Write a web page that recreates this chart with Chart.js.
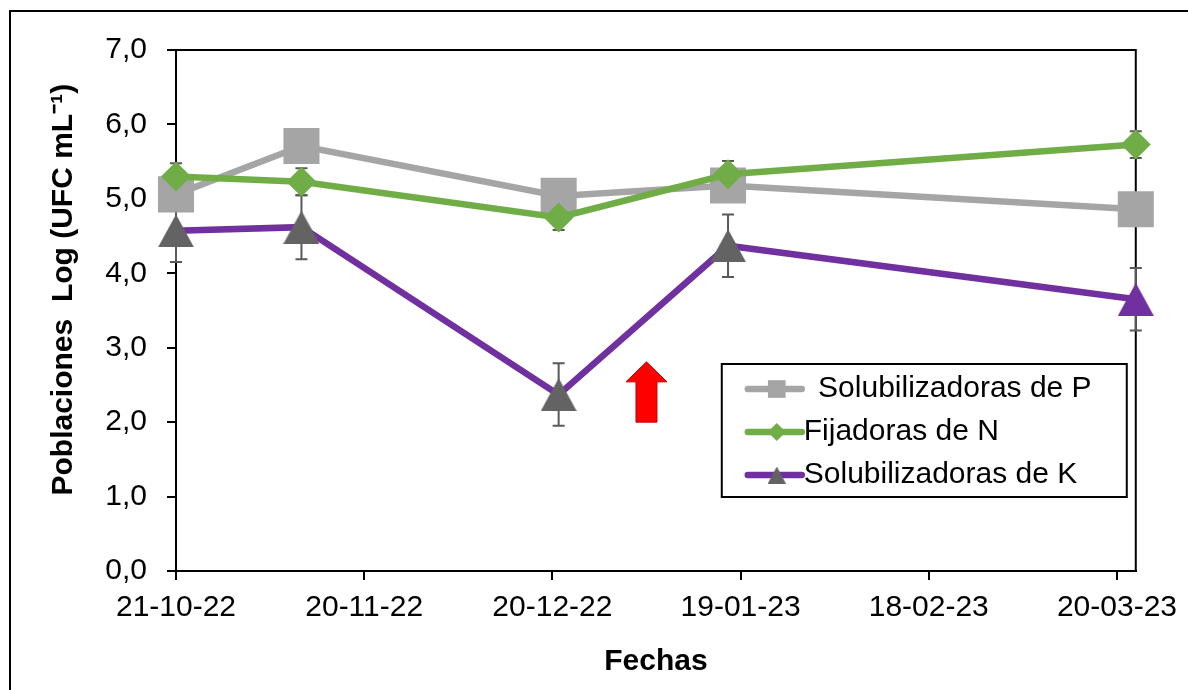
<!DOCTYPE html>
<html lang="es">
<head>
<meta charset="utf-8">
<title>Poblaciones microbianas</title>
<script src="https://cdn.jsdelivr.net/npm/chart.js@4/dist/chart.umd.min.js"></script>
<style>
    html, body { margin: 0; padding: 0; background: #fff; overflow: hidden; }
    #wrap { position: relative; width: 1188px; height: 690px; overflow: hidden; }
    #frame {
        position: absolute; left: 9px; top: 10px; width: 1400px; height: 900px;
        border-top: 2px solid #000; border-left: 2px solid #000;
    }
    #chart { position: absolute; left: 0; top: 0; }
</style>
</head>
<body>
<div id="wrap">
    <div id="frame"></div>
    <canvas id="chart" width="1188" height="690"></canvas>
</div>
<script>
(function () {
    "use strict";

    // days counted from 21-10-22
    const sampleDays = [0, 20, 61, 88, 153];
    const solubP = [5.06, 5.71, 5.04, 5.18, 4.86];
    const fijN = [5.30, 5.23, 4.75, 5.33, 5.73];
    const solubK = [4.57, 4.62, 2.37, 4.37, 3.65];
    const errN = [0.18, 0.18, 0.17, 0.18, 0.18];
    const errK = [0.42, 0.43, 0.42, 0.42, 0.42];

    const seriesLabels = [" Solubilizadoras de P", "Fijadoras de N", "Solubilizadoras de K"];

    const xTickDays = [0, 30, 60, 90, 120, 150];
    const xTickLabels = ["21-10-22", "20-11-22", "20-12-22", "19-01-23", "18-02-23", "20-03-23"];
    const yTickValues = [0, 1, 2, 3, 4, 5, 6, 7];

    // red arrow (day, from value, to value)
    const arrowDay = 75;
    const arrowFrom = 2.0;
    const arrowTo = 2.81;

    const fontFamily = "'Liberation Sans', Arial, sans-serif";
    const grayP = "#a5a5a5";
    const greenN = "#70ad47";
    const purpleK = "#7030a0";
    const markerK = "#636363";
    const errColor = "#595959";

    const toPoints = (values) => sampleDays.map((d, i) => ({ x: d, y: values[i] }));

    // triangle marker centred on its bounding box, like the spreadsheet one
    function triangleImage(w, h, color) {
        const c = document.createElement("canvas");
        c.width = w;
        c.height = h;
        const g = c.getContext("2d");
        g.fillStyle = color;
        g.beginPath();
        g.moveTo(w / 2, 0);
        g.lineTo(w, h);
        g.lineTo(0, h);
        g.closePath();
        g.fill();
        return c;
    }

    const triGray = triangleImage(36, 33, markerK);
    const triPurple = triangleImage(36, 33, purpleK);
    const triLegend = triangleImage(18, 17, markerK);

    const errorBarsPlugin = {
        id: "errorBars",
        beforeDatasetsDraw(chart) {
            const { ctx, scales: { x, y } } = chart;
            const sets = [[fijN, errN], [solubK, errK]];
            ctx.save();
            ctx.strokeStyle = errColor;
            ctx.lineWidth = 2;
            sets.forEach(([values, errs]) => {
                values.forEach((v, i) => {
                    const px = x.getPixelForValue(sampleDays[i]);
                    const top = y.getPixelForValue(v + errs[i]);
                    const bottom = y.getPixelForValue(v - errs[i]);
                    ctx.beginPath();
                    ctx.moveTo(px, top);
                    ctx.lineTo(px, bottom);
                    ctx.moveTo(px - 6, top);
                    ctx.lineTo(px + 6, top);
                    ctx.moveTo(px - 6, bottom);
                    ctx.lineTo(px + 6, bottom);
                    ctx.stroke();
                });
            });
            ctx.restore();
        }
    };

    const plotBorderPlugin = {
        id: "plotBorder",
        beforeDatasetsDraw(chart) {
            const { ctx, chartArea: a } = chart;
            ctx.save();
            ctx.strokeStyle = "#000";
            ctx.lineWidth = 2;
            ctx.beginPath();
            ctx.moveTo(a.left - 9, a.top);
            ctx.lineTo(a.right, a.top);
            ctx.lineTo(a.right, a.bottom);
            ctx.stroke();
            ctx.restore();
        }
    };

    const arrowPlugin = {
        id: "arrow",
        afterDatasetsDraw(chart) {
            const { ctx, scales: { x, y } } = chart;
            const cx = x.getPixelForValue(arrowDay);
            const yTop = y.getPixelForValue(arrowTo);
            const yBottom = y.getPixelForValue(arrowFrom);
            const headW = 20.5, headH = 20, shaftW = 10.5;
            ctx.save();
            ctx.beginPath();
            ctx.moveTo(cx, yTop);
            ctx.lineTo(cx + headW, yTop + headH);
            ctx.lineTo(cx + shaftW, yTop + headH);
            ctx.lineTo(cx + shaftW, yBottom);
            ctx.lineTo(cx - shaftW, yBottom);
            ctx.lineTo(cx - shaftW, yTop + headH);
            ctx.lineTo(cx - headW, yTop + headH);
            ctx.closePath();
            ctx.fillStyle = "#ff0000";
            ctx.fill();
            ctx.strokeStyle = "#c00000";
            ctx.lineWidth = 1;
            ctx.stroke();
            ctx.restore();
        }
    };

    function drawMarker(ctx, style, radius, px, py) {
        if (Chart.helpers && Chart.helpers.drawPoint) {
            Chart.helpers.drawPoint(ctx, {
                pointStyle: style, radius: radius, rotation: 0, borderWidth: 0
            }, px, py);
            return;
        }
        if (style instanceof HTMLCanvasElement) {
            ctx.drawImage(style, px - style.width / 2, py - style.height / 2);
            return;
        }
        ctx.beginPath();
        ctx.arc(px, py, radius, 0, Math.PI * 2);
        ctx.fill();
    }

    const boxLegendPlugin = {
        id: "boxLegend",
        afterDraw(chart) {
            const { ctx, chartArea: a } = chart;
            const left = a.right - 414;
            const top = a.top + 314;
            const entries = [
                { line: grayP, marker: grayP, style: "rect", r: 12.5 },
                { line: greenN, marker: greenN, style: "rectRot", r: 9 },
                { line: purpleK, marker: markerK, style: triLegend, r: 10 }
            ];
            ctx.save();
            ctx.fillStyle = "#fff";
            ctx.fillRect(left, top, 405, 133);
            ctx.strokeStyle = "#000";
            ctx.lineWidth = 2;
            ctx.strokeRect(left, top, 405, 133);
            entries.forEach((e, i) => {
                const rowY = top + 25 + i * 43;
                ctx.strokeStyle = e.line;
                ctx.lineWidth = 6.5;
                ctx.lineCap = "round";
                ctx.beginPath();
                ctx.moveTo(left + 26, rowY);
                ctx.lineTo(left + 80, rowY);
                ctx.stroke();
                ctx.fillStyle = e.marker;
                drawMarker(ctx, e.style, e.r, left + 55, rowY);
                ctx.fillStyle = "#000";
                ctx.font = "30px " + fontFamily;
                ctx.textAlign = "left";
                ctx.textBaseline = "middle";
                ctx.fillText(seriesLabels[i], left + (i === 0 ? 88 : 82), rowY);
            });
            ctx.restore();
        }
    };

    const lineDefaults = {
        borderWidth: 6.5,
        pointBorderWidth: 0,
        fill: false,
        tension: 0,
        clip: false
    };

    new Chart(document.getElementById("chart"), {
        type: "line",
        data: {
            datasets: [
                {
                    ...lineDefaults,
                    label: seriesLabels[0],
                    data: toPoints(solubP),
                    borderColor: grayP,
                    backgroundColor: grayP,
                    pointStyle: "rect",
                    pointRadius: 25.5,
                    pointHoverRadius: 25.5,
                    order: 3
                },
                {
                    ...lineDefaults,
                    label: seriesLabels[1],
                    data: toPoints(fijN),
                    borderColor: greenN,
                    backgroundColor: greenN,
                    pointStyle: "rectRot",
                    pointRadius: 15,
                    pointHoverRadius: 15,
                    order: 2
                },
                {
                    ...lineDefaults,
                    label: seriesLabels[2],
                    data: toPoints(solubK),
                    borderColor: purpleK,
                    backgroundColor: markerK,
                    pointStyle: [triGray, triGray, triGray, triGray, triPurple],
                    pointRadius: 18,
                    pointHoverRadius: 18,
                    order: 1
                }
            ]
        },
        plugins: [plotBorderPlugin, errorBarsPlugin, arrowPlugin, boxLegendPlugin],
        options: {
            responsive: false,
            animation: false,
            events: [],
            layout: { padding: { left: 0, top: 50, right: 51, bottom: 0 } },
            plugins: {
                legend: { display: false },
                tooltip: { enabled: false }
            },
            scales: {
                x: {
                    type: "linear",
                    min: 0,
                    max: 153,
                    afterBuildTicks: (scale) => {
                        scale.ticks = xTickDays.map((v) => ({ value: v }));
                    },
                    afterFit: (scale) => { scale.height = 119; },
                    border: { display: true, color: "#000", width: 2 },
                    grid: { display: true, drawOnChartArea: false, drawTicks: true, tickLength: 9, color: "#000", lineWidth: 2 },
                    ticks: {
                        color: "#000",
                        font: { family: fontFamily, size: 30 },
                        padding: 10,
                        maxRotation: 0,
                        autoSkip: false,
                        callback: (value) => xTickLabels[xTickDays.indexOf(value)]
                    },
                    title: {
                        display: true,
                        text: "Fechas",
                        color: "#000",
                        font: { family: fontFamily, size: 30, weight: "bold" },
                        padding: { top: 0, bottom: 10 }
                    }
                },
                y: {
                    min: 0,
                    max: 7,
                    afterBuildTicks: (scale) => {
                        scale.ticks = yTickValues.map((v) => ({ value: v }));
                    },
                    afterFit: (scale) => { scale.width = 176; },
                    border: { display: true, color: "#000", width: 2 },
                    grid: { display: true, drawOnChartArea: false, drawTicks: true, tickLength: 9, color: "#000", lineWidth: 2 },
                    ticks: {
                        color: "#000",
                        font: { family: fontFamily, size: 30 },
                        padding: 20,
                        callback: (value) => value.toFixed(1).replace(".", ",")
                    },
                    title: {
                        display: true,
                        text: "     Poblaciones  Log (UFC mL\u207B\u00B9)",
                        color: "#000",
                        font: { family: fontFamily, size: 30, weight: "bold" },
                        padding: { top: 46, bottom: 0 }
                    }
                }
            }
        }
    });
}());
</script>
</body>
</html>
